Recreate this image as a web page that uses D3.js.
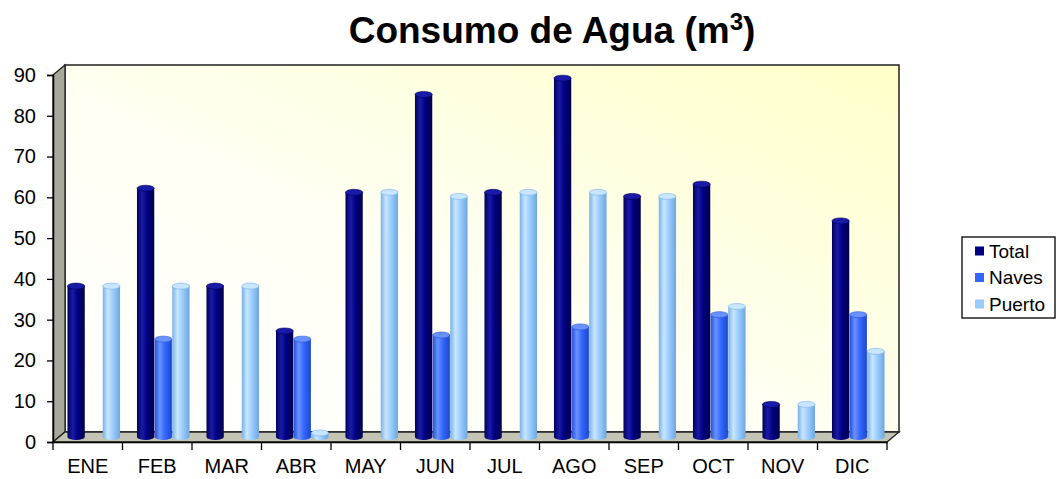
<html>
<script src="https://d3js.org/d3.v7.min.js"></script>
<style>
body{margin:0;background:#fff;}
svg{font-family:Arial, "Liberation Sans", sans-serif;}
</style>
<body>
<div class="chart"></div>
</body>
<script>
const months = ['ENE','FEB','MAR','ABR','MAY','JUN','JUL','AGO','SEP','OCT','NOV','DIC'];
const seriesNames = ['Total','Naves','Puerto'];
const total  = [37, 61, 37, 26, 60, 84, 60, 88, 59, 62, 8, 53];
const naves  = [0, 24, 0, 24, 0, 25, 0, 27, 0, 30, 0, 30];
const puerto = [37, 37, 37, 1, 60, 59, 60, 60, 59, 32, 8, 21];
const yTicks = [0,10,20,30,40,50,60,70,80,90];
const colors = {Total:'#000080', Naves:'#3366FF', Puerto:'#99CCFF'};
const shades = {
  Total:  ['#00005a','#1a1aa8','#000080','#00004a'],
  Naves:  ['#2250d8','#6a92ff','#3366FF','#1d48c8'],
  Puerto: ['#78b0e8','#c8e6ff','#99CCFF','#6fa6dc']
};

const W = 1059, H = 479;
const plotLeft = 53, plotRight = 887, plotTop = 75, plotBottom = 442;
const dx = 12, dy = 10;

const rows = months.map((m,i)=>({month:m, Total:total[i], Naves:naves[i], Puerto:puerto[i]}));

const svg = d3.select('.chart').append('svg')
  .attr('width', W).attr('height', H);

const defs = svg.append('defs');
const bg = defs.append('linearGradient').attr('id','wallGrad')
  .attr('x1','0').attr('y1','1').attr('x2','1').attr('y2','0');
bg.append('stop').attr('offset','0%').attr('stop-color','#ffffff');
bg.append('stop').attr('offset','45%').attr('stop-color','#fffff4');
bg.append('stop').attr('offset','100%').attr('stop-color','#ffffc8');

seriesNames.forEach(s=>{
  const g = defs.append('linearGradient').attr('id','cyl-'+s)
    .attr('x1','0').attr('y1','0').attr('x2','1').attr('y2','0');
  g.append('stop').attr('offset','0%').attr('stop-color',shades[s][0]);
  g.append('stop').attr('offset','30%').attr('stop-color',shades[s][1]);
  g.append('stop').attr('offset','60%').attr('stop-color',shades[s][2]);
  g.append('stop').attr('offset','100%').attr('stop-color',shades[s][3]);
});

const y = d3.scaleLinear().domain([0,90]).range([plotBottom, plotTop]);
const x = d3.scaleBand().domain(months).range([plotLeft, plotRight]).paddingInner(0).paddingOuter(0);
const xs = d3.scaleBand().domain(seriesNames).range([0, x.bandwidth()]).paddingInner(0.02).paddingOuter(0.48);

// back wall
svg.append('rect')
  .attr('x', plotLeft+dx).attr('y', plotTop-dy)
  .attr('width', plotRight-plotLeft).attr('height', plotBottom-plotTop)
  .attr('fill','url(#wallGrad)').attr('stroke','#222').attr('stroke-width',1.5);

// left side wall
svg.append('path')
  .attr('d', `M${plotLeft},${plotTop} L${plotLeft+dx},${plotTop-dy} L${plotLeft+dx},${plotBottom-dy} L${plotLeft},${plotBottom} Z`)
  .attr('fill','#a8a89c').attr('stroke','#222').attr('stroke-width',1.3);

// floor
svg.append('path')
  .attr('d', `M${plotLeft},${plotBottom} L${plotLeft+dx},${plotBottom-dy} L${plotRight+dx},${plotBottom-dy} L${plotRight},${plotBottom} Z`)
  .attr('fill','#c4c4b4').attr('stroke','#222').attr('stroke-width',1.3);

// bars (cylinders)
const bw = xs.bandwidth();
const ry = 3;
const bars = svg.append('g');
rows.forEach(r=>{
  seriesNames.forEach(s=>{
    const v = r[s];
    if(!v) return;
    const x0 = x(r.month) + xs(s) + dx/2;
    const x1 = x0 + bw;
    const yb = y(0) - dy/2;
    const yt = y(v) - dy/2;
    const rx = bw/2;
    bars.append('path')
      .attr('d', `M${x0},${yt} L${x0},${yb} A${rx},${ry} 0 0 0 ${x1},${yb} L${x1},${yt} Z`)
      .attr('fill', `url(#cyl-${s})`);
    bars.append('ellipse')
      .attr('cx', x0+rx).attr('cy', yt).attr('rx', rx).attr('ry', ry)
      .attr('fill', shades[s][1]).attr('stroke', shades[s][0]).attr('stroke-width',0.6);
  });
});

// y axis
const yAxis = svg.append('g')
  .attr('transform', `translate(${plotLeft},0)`)
  .call(d3.axisLeft(y).tickValues(yTicks).tickSize(6).tickPadding(11));
yAxis.select('.domain').attr('stroke','#000').attr('stroke-width',1.5);
yAxis.selectAll('.tick line').attr('stroke','#000').attr('stroke-width',1.3);
yAxis.selectAll('text').attr('font-size',20).attr('fill','#000')
  .attr('font-family','Arial, "Liberation Sans", sans-serif');

// x axis
const xAxis = svg.append('g')
  .attr('transform', `translate(0,${plotBottom})`)
  .call(d3.axisBottom(x).tickSize(0).tickPadding(17));
xAxis.select('.domain').attr('stroke','#000').attr('stroke-width',1.5);
xAxis.selectAll('text').attr('font-size',20).attr('fill','#000')
  .attr('font-family','Arial, "Liberation Sans", sans-serif');
svg.append('g').selectAll('line')
  .data(months.map(m=>x(m)).concat([plotRight]))
  .join('line')
  .attr('x1', d=>d).attr('x2', d=>d)
  .attr('y1', plotBottom).attr('y2', plotBottom+8)
  .attr('stroke','#000').attr('stroke-width',1.3);

// title
const title = svg.append('text')
  .attr('x', 552).attr('y', 43)
  .attr('text-anchor','middle')
  .attr('font-size',37).attr('font-weight','bold');
title.append('tspan').text('Consumo de Agua (m');
title.append('tspan').attr('font-size',24).attr('dy',-13).text('3');
title.append('tspan').attr('dy',13).text(')');

// legend
const legend = svg.append('g');
legend.append('rect')
  .attr('x',962).attr('y',237).attr('width',93).attr('height',81)
  .attr('fill','#fff').attr('stroke','#000').attr('stroke-width',1.3);
seriesNames.forEach((s,i)=>{
  const cy = 251 + i*26.5;
  legend.append('rect').attr('x',975).attr('y',cy-4.5).attr('width',9).attr('height',9)
    .attr('fill',colors[s]);
  legend.append('text').attr('x',989).attr('y',cy+6.5)
    .attr('font-size',19).text(s);
});
</script>
</html>
